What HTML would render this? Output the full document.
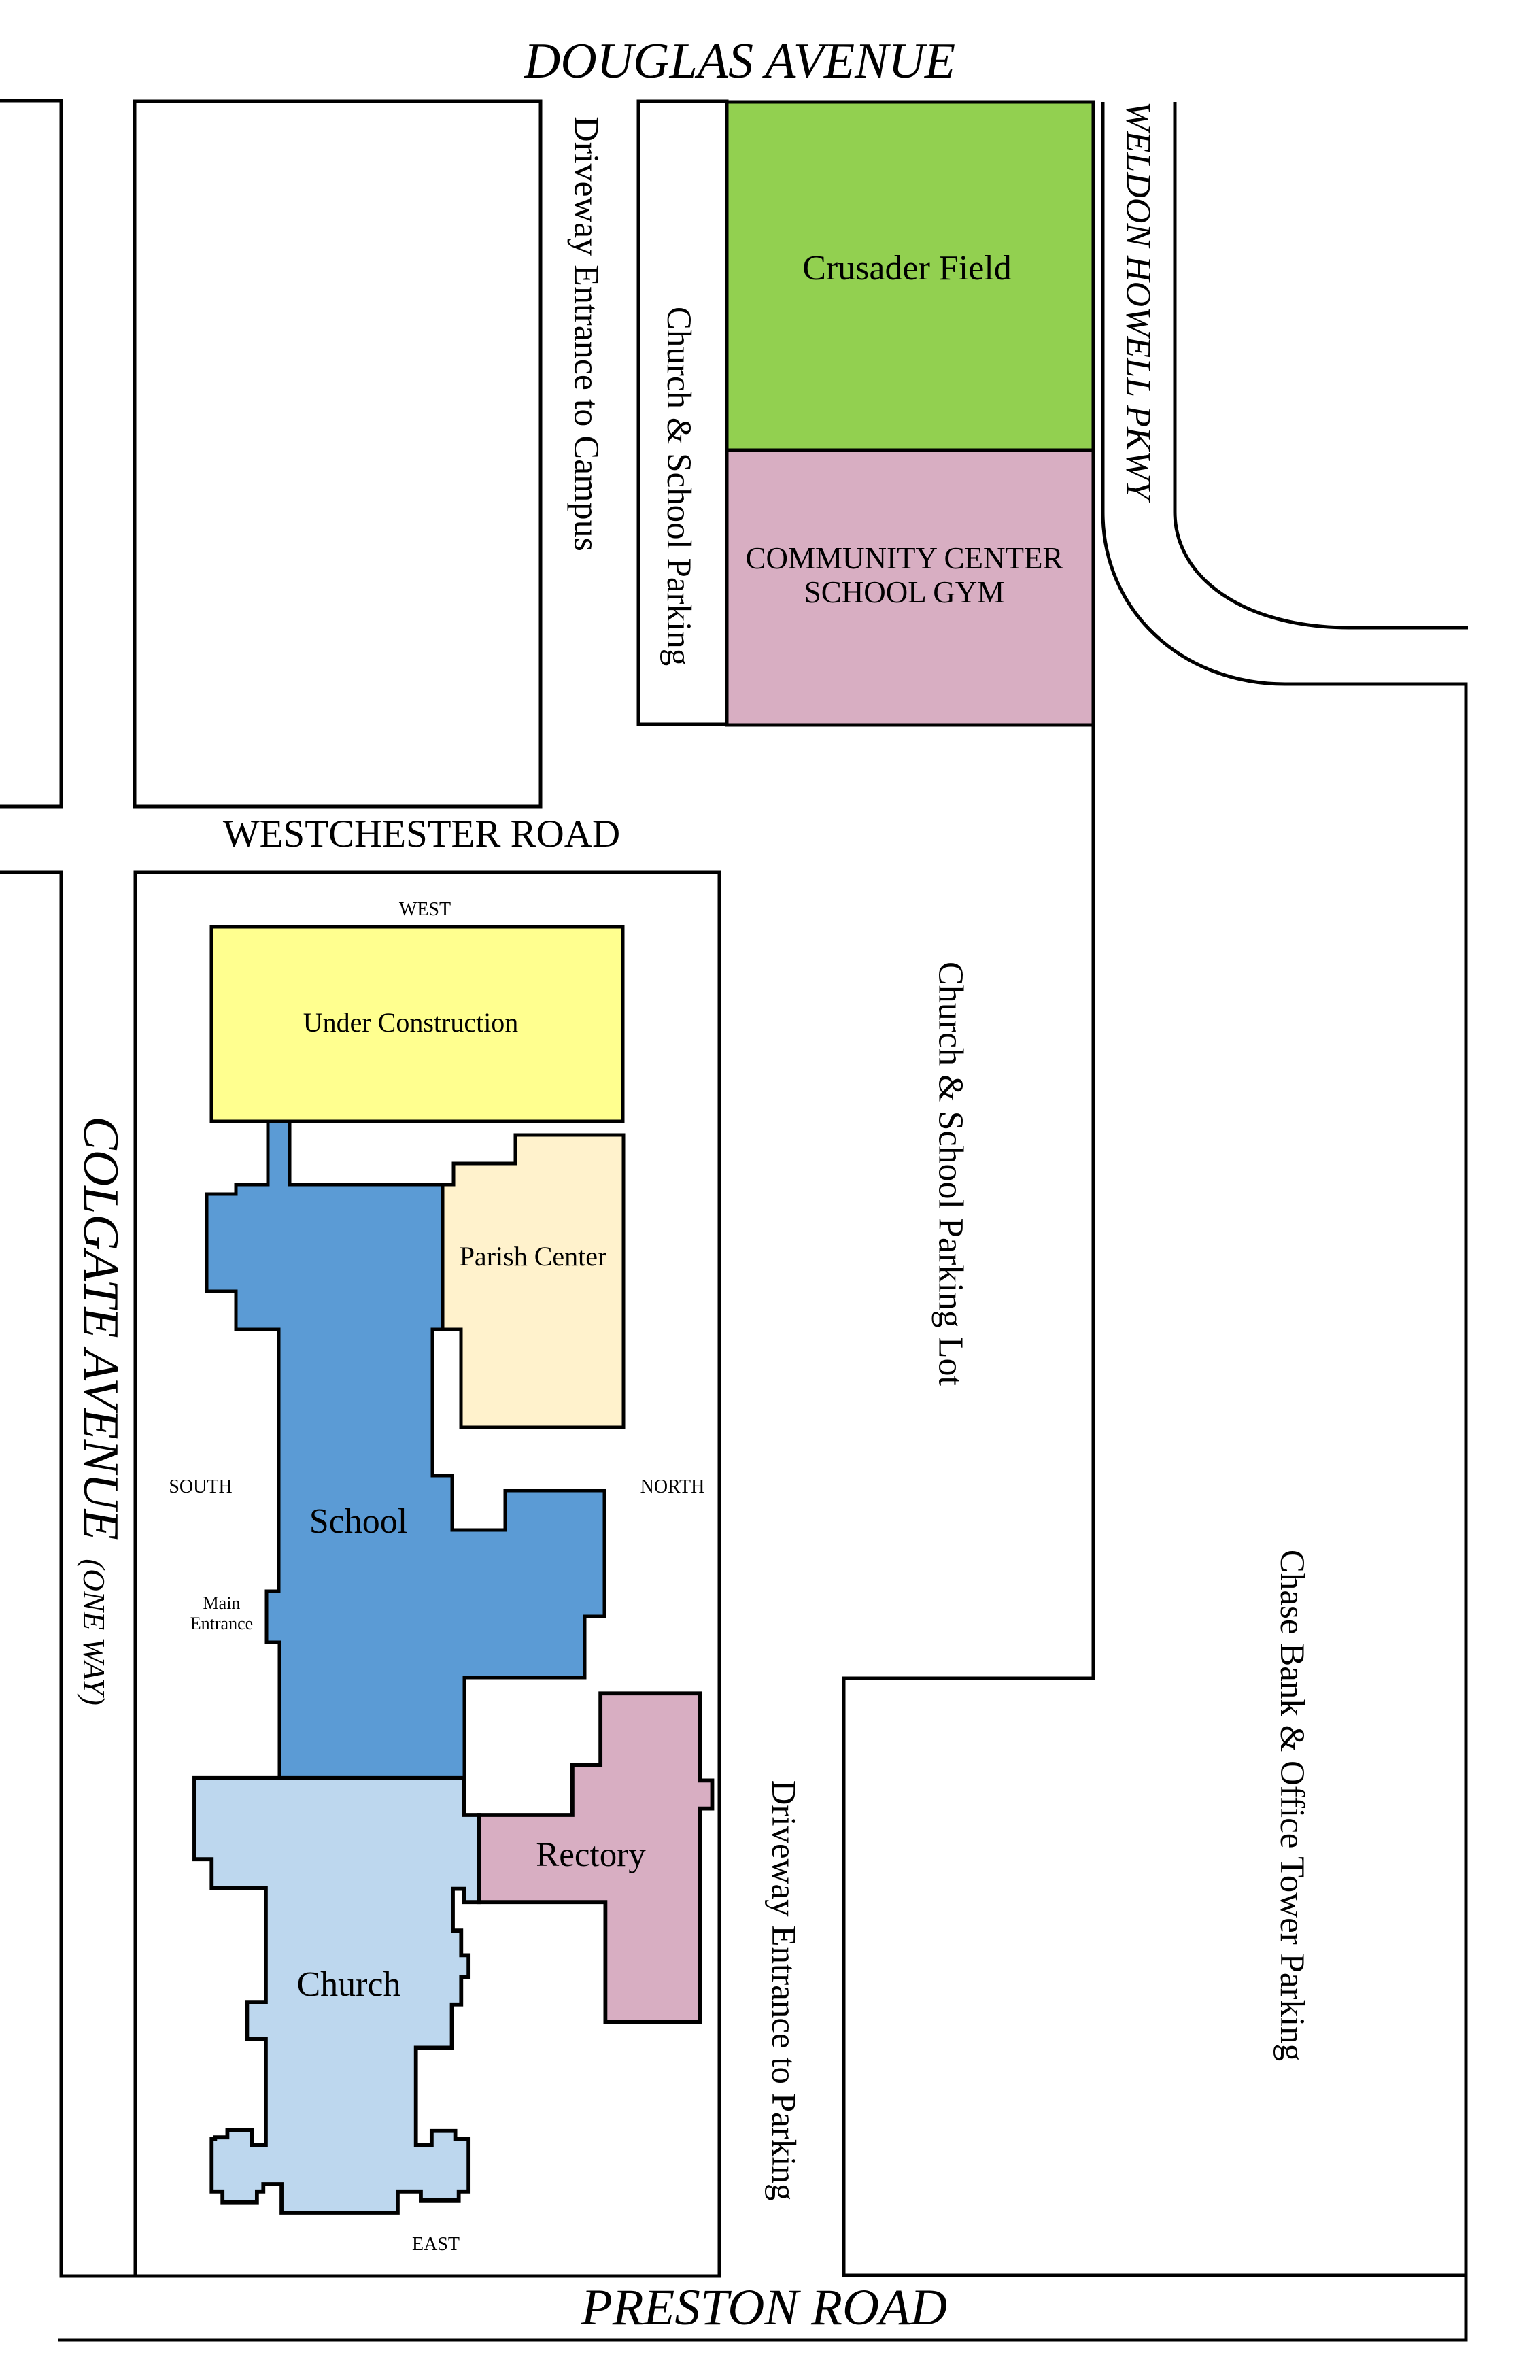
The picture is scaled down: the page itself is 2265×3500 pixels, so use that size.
<!DOCTYPE html>
<html><head><meta charset="utf-8"><style>
html,body{margin:0;padding:0;background:#fff;}
svg{display:block;}
text{font-family:"Liberation Serif",serif;fill:#000;}
</style></head><body>
<svg width="2265" height="3500" viewBox="0 0 2265 3500" xmlns="http://www.w3.org/2000/svg">
<g fill="none" stroke="#000" stroke-width="5">
<path d="M0,148 H90 V1186 H0"/>
<rect x="198" y="149" width="597" height="1037"/>
<rect x="939" y="149" width="130" height="916"/>
<rect x="1069" y="150" width="539" height="512" fill="#92d050"/>
<rect x="1069" y="662" width="539" height="404" fill="#d8aec2"/>
<path d="M1622,150 V753 C1622,900 1740,1006 1890,1006 H2156 V3441 H86"/>
<path d="M1728,150 V753 C1728,850 1830,923 1984,923 H2159"/>
<path d="M1608,1066 V2468 H1241 V3346 H2156"/>
<path d="M0,1283 H90 V3347 H199"/>
<rect x="199" y="1283" width="859" height="2064"/>
<path fill="#5b9bd5" d="M304,1756 H347 V1742 H394 V1646 H426 V1742 H651 V1955 H636 V2170 H665 V2250 H743 V2192 H889 V2377 H860 V2467 H683 V2615 H411 V2415 H392 V2340 H410 V1955 H347 V1899 H304 Z"/>
<rect x="311" y="1363" width="605" height="286" fill="#ffff8f"/>
<path fill="#fff2cc" d="M651,1742 H667 V1711 H758 V1669 H917 V2099 H678 V1955 H651 Z"/>
</g>
<g transform="translate(0,2365) scale(0.7239)" fill="none" stroke="#000" stroke-width="8">
<path fill="#bdd7ee" d="M395,345 H943 V420 H973 V597 H943 V570 H920 V655 H937 V705 H952 V750 H937 V805 H918 V893 H845 V1090 H877 V1062 H925 V1078 H952 V1185 H932 V1203 H855 V1185 H808 V1228 H572 V1170 H535 V1185 H522 V1207 H452 V1185 H430 V1078 H437 V1075 H462 V1060 H512 V1090 H540 V875 H502 V800 H540 V568 H430 V510 H395 Z"/>
<path fill="#d8aec2" d="M973,420 H1163 V318 H1220 V173 H1422 V350 H1447 V407 H1422 V840 H1230 V597 H973 Z"/>
</g>
<g font-style="italic" text-anchor="middle">
<text x="1088" y="114" font-size="74">DOUGLAS AVENUE</text>
<text x="1124" y="3418" font-size="75">PRESTON ROAD</text>
<text transform="translate(148,1953) rotate(90)" dominant-baseline="central" font-size="74">COLGATE AVENUE</text>
<text transform="translate(138,2400) rotate(90)" dominant-baseline="central" font-size="45">(ONE WAY)</text>
<text transform="translate(1674,442) rotate(90)" dominant-baseline="central" font-size="52">WELDON HOWELL PKWY</text>
</g>
<g text-anchor="middle">
<text x="620" y="1245" font-size="57">WESTCHESTER ROAD</text>
<text transform="translate(862,491) rotate(90)" dominant-baseline="central" font-size="52">Driveway Entrance to Campus</text>
<text transform="translate(998,715) rotate(90)" dominant-baseline="central" font-size="51">Church &amp; School Parking</text>
<text transform="translate(1398,1726) rotate(90)" dominant-baseline="central" font-size="52">Church &amp; School Parking Lot</text>
<text transform="translate(1152,2927) rotate(90)" dominant-baseline="central" font-size="51">Driveway Entrance to Parking</text>
<text transform="translate(1900,2655) rotate(90)" dominant-baseline="central" font-size="51">Chase Bank &amp; Office Tower Parking</text>
<text x="1334" y="411" font-size="52">Crusader Field</text>
<text x="1330" y="836" font-size="45">COMMUNITY CENTER</text>
<text x="1330" y="886" font-size="45">SCHOOL GYM</text>
<text x="625" y="1346" font-size="28">WEST</text>
<text x="604" y="1517" font-size="40">Under Construction</text>
<text x="784" y="1861" font-size="40">Parish Center</text>
<text x="295" y="2195" font-size="28">SOUTH</text>
<text x="989" y="2195" font-size="28">NORTH</text>
<text x="527" y="2254" font-size="52">School</text>
<text x="326" y="2366" font-size="26">Main</text>
<text x="326" y="2396" font-size="26">Entrance</text>
<text x="513" y="2935" font-size="52">Church</text>
<text x="869" y="2744" font-size="51">Rectory</text>
<text x="641" y="3309" font-size="28">EAST</text>
</g>
</svg>
</body></html>
